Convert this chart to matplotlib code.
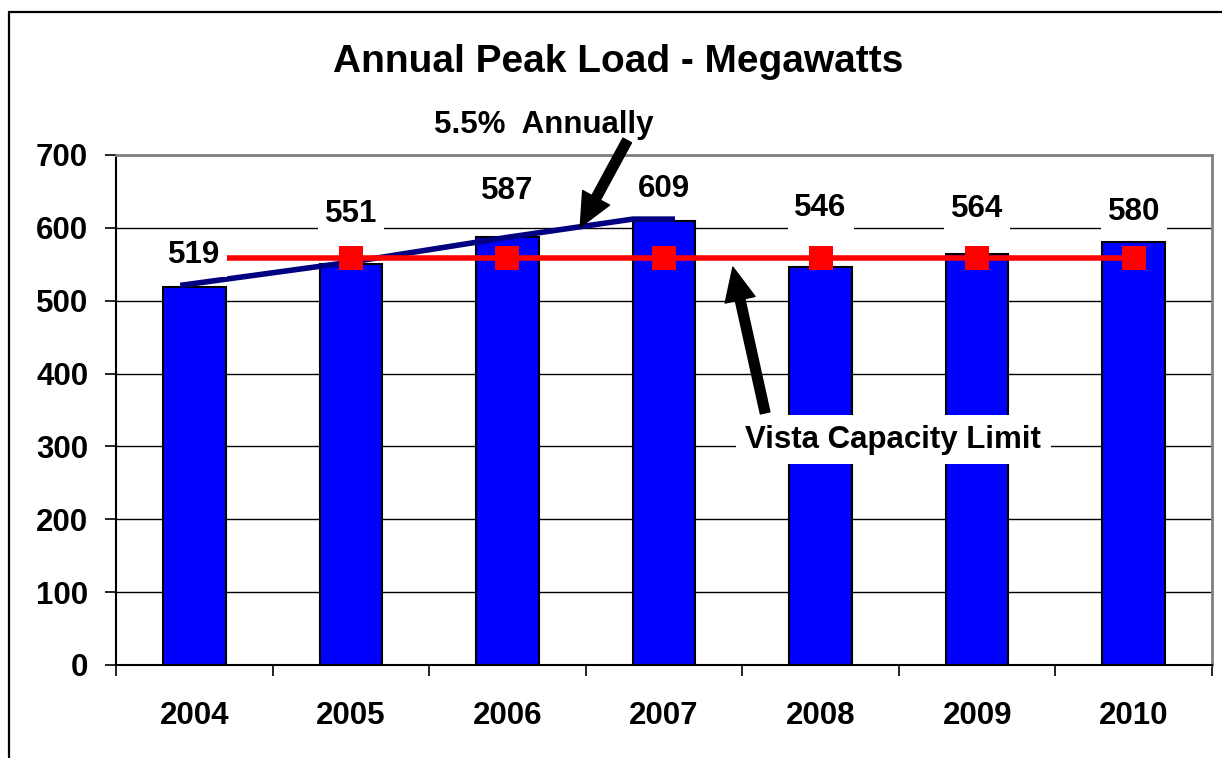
import matplotlib
matplotlib.use("Agg")
import matplotlib.pyplot as plt
from matplotlib.patches import Rectangle

plt.rcParams['font.family'] = ['Liberation Sans', 'DejaVu Sans']
plt.rcParams['font.weight'] = 'bold'

years = ['2004', '2005', '2006', '2007', '2008', '2009', '2010']
peak_load = [519, 551, 587, 609, 546, 564, 580]
capacity_limit = [558, 558, 558, 558, 558, 558, 558]
trend_x = [-0.09, 1.0, 2.0, 2.8, 3.07]
trend_y = [521, 553, 587, 612, 612]
y_ticks = [0, 100, 200, 300, 400, 500, 600, 700]

# layout: baseline heights of value labels (data units)
label_base = [552, 608, 640, 642, 616, 615, 611]

W, H = 1222, 758
fig = plt.figure(figsize=(W / 100, H / 100), dpi=100)
ax = fig.add_axes([116 / W, 1 - 665 / H, (1212 - 116) / W, (665 - 155) / H])

x = list(range(len(years)))
ax.bar(x, peak_load, width=0.4, color='#0000FF', edgecolor='black', linewidth=1.5, zorder=2)
ax.plot(trend_x, trend_y, color='#000080', linewidth=4, zorder=3, solid_capstyle='butt')
ax.plot(x, capacity_limit, color='#FF0000', linewidth=4, marker='s', markersize=17,
        markeredgewidth=0, zorder=4)

for xi, v, yb in zip(x, peak_load, label_base):
    ax.text(xi, yb, str(v), ha='center', va='baseline', fontsize=22.5, fontweight='bold',
            zorder=6, bbox=dict(boxstyle='square,pad=0.22', fc='white', ec='none'))

ax.set_xlim(-0.5, 6.5)
ax.set_ylim(0, 700)
ax.set_yticks(y_ticks)
ax.set_yticklabels([str(t) for t in y_ticks], fontsize=22.5, fontweight='bold')
ax.set_xticks(x)
ax.set_xticklabels(years, fontsize=22.5, fontweight='bold')
ax.set_xticks([i - 0.5 for i in range(len(years) + 1)], minor=True)
ax.tick_params(axis='x', which='major', length=0, pad=26)
ax.tick_params(axis='x', which='minor', length=8, width=1.2, direction='out')
ax.tick_params(axis='y', length=8, width=1.2, direction='out', pad=12)

ax.yaxis.grid(True, color='black', linewidth=1.0, zorder=0)
ax.set_axisbelow(True)
for s in ['left', 'bottom']:
    ax.spines[s].set_color('black')
    ax.spines[s].set_linewidth(1.5)
for s in ['top', 'right']:
    ax.spines[s].set_color('#808080')
    ax.spines[s].set_linewidth(2)

fig.text(618 / W, 1 - 62 / H, 'Annual Peak Load - Megawatts', ha='center', va='center',
         fontsize=28, fontweight='bold')

# 5.5% annually label and arrow
ax.text(2.23, 741, '5.5%  Annually', ha='center', va='center', fontsize=22.5,
        fontweight='bold', clip_on=False)
ax.annotate('', xy=(2.465, 601), xytext=(2.765, 720), annotation_clip=False,
            arrowprops=dict(facecolor='black', edgecolor='black', width=7,
                            headwidth=22, headlength=24, shrink=0), zorder=7)

# Vista capacity limit label and arrow
ax.text(4.465, 309, 'Vista Capacity Limit', ha='center', va='center', fontsize=22.5,
        fontweight='bold', zorder=6,
        bbox=dict(boxstyle='square,pad=0.3', fc='white', ec='none'))
ax.annotate('', xy=(3.44, 546), xytext=(3.646, 346), annotation_clip=False,
            arrowprops=dict(facecolor='black', edgecolor='black', width=7,
                            headwidth=22, headlength=24, shrink=0), zorder=7)

fig.add_artist(Rectangle((9 / W, -0.1), 1.2, (1 - 12 / H) + 0.1, transform=fig.transFigure,
                         fill=False, edgecolor='black', linewidth=1.6))

fig.savefig('out.png', dpi=100)
